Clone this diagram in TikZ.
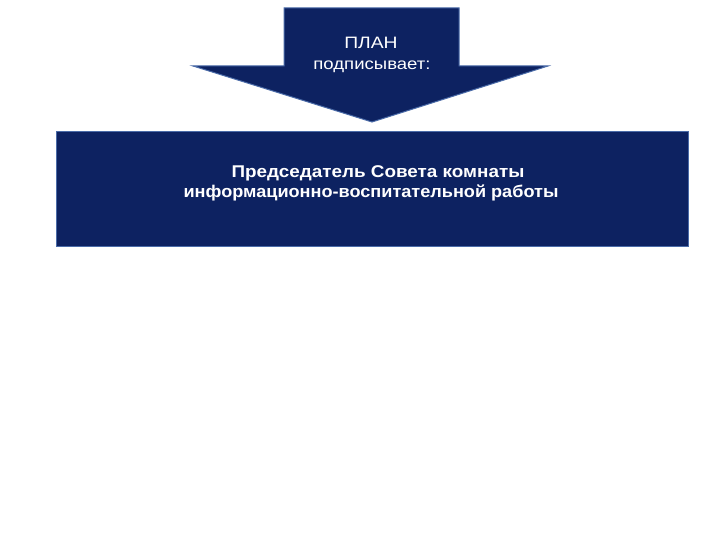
\documentclass[tikz,border=0pt]{standalone}
\usepackage{fontspec}
\setmainfont{Liberation Sans}
\definecolor{navy}{HTML}{0D2261}
\definecolor{edgeblue}{HTML}{4A6BA8}
\begin{document}
\begin{tikzpicture}[x=1pt,y=-1pt,
  shapestyle/.style={fill=navy,draw=edgeblue,line width=1pt},
  lbl/.style={text=white,inner sep=0pt,anchor=base}]
\useasboundingbox (0,0) rectangle (720,540);
\fill[white] (0,0) rectangle (720,540);
\draw[shapestyle] (284,8) -- (459,8) -- (459,66) -- (548,66) -- (372,122) -- (193,66) -- (284,66) -- cycle;
\node[lbl,font=\fontsize{16.5}{19}\selectfont] (plan) at (371,48.5) {\scalebox{1.17}[1]{ПЛАН}};
\node[lbl,font=\fontsize{16}{19}\selectfont] (sign) at (372,70) {\scalebox{1.16}[1]{подписывает:}};
\draw[shapestyle] (56,132) rectangle (688,246);
\node[lbl,font=\bfseries\fontsize{17}{20}\selectfont] (chair) at (378,178) {\scalebox{1.11}[1]{Председатель Совета комнаты}};
\node[lbl,font=\bfseries\fontsize{17}{20}\selectfont] (work) at (371,197) {\scalebox{1.065}[1]{информационно-воспитательной работы}};
\end{tikzpicture}
\end{document}
